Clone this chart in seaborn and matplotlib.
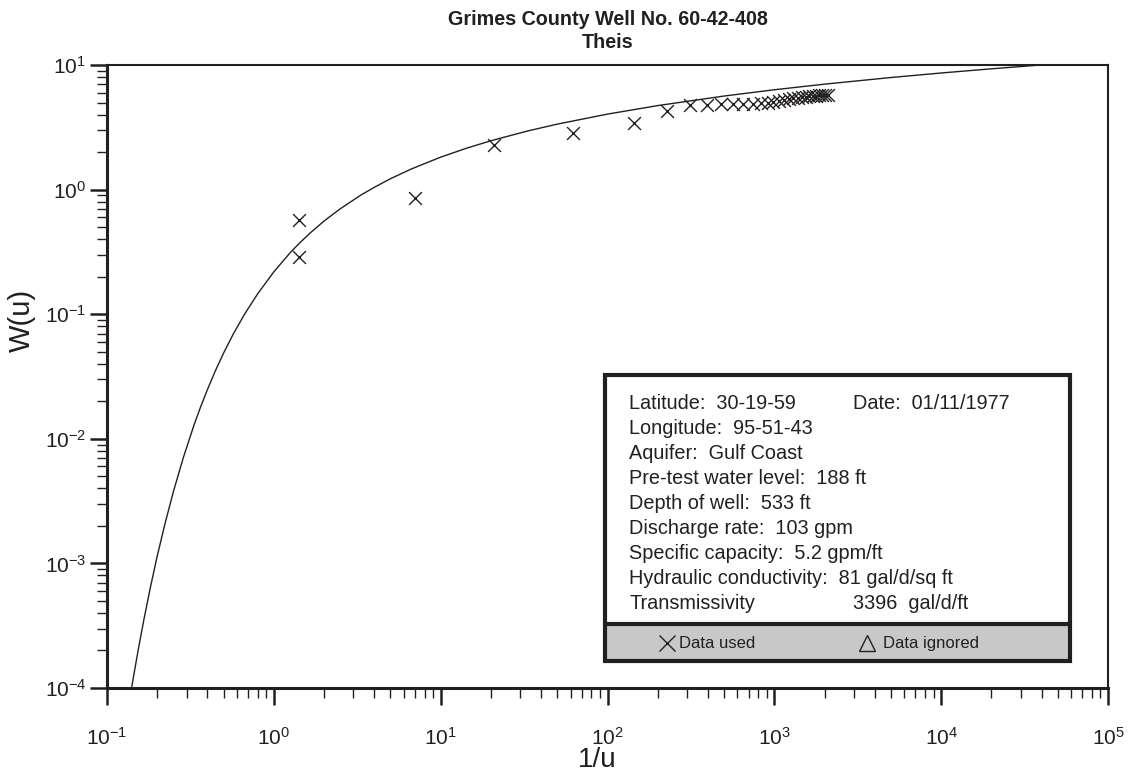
import matplotlib
matplotlib.use("Agg")
import numpy as np
import pandas as pd
import matplotlib.pyplot as plt
import seaborn as sns
from matplotlib.ticker import LogLocator, NullFormatter
from matplotlib.patches import Rectangle

# ==========================================
# Data
# ==========================================

# Theis type curve (1/u vs W(u))
curve_inv_u = [0.1408, 0.1429, 0.1538, 0.1667, 0.1818, 0.2, 0.2222, 0.25, 0.2857, 0.333,
               0.3636, 0.4, 0.4444, 0.5, 0.5714, 0.667, 0.8, 1.0, 1.25, 1.429,
               1.667, 2.0, 2.5, 3.33, 4.0, 5.0, 6.67, 10, 14.3, 20,
               33.3, 50, 100, 200, 500, 1000, 2000, 5000, 1e4, 2e4, 4e4]
curve_w = [1.03e-4, 1.155e-4, 2.03e-4, 3.60e-4, 6.41e-4, 1.148e-3, 2.07e-3, 3.78e-3, 6.97e-3, 1.305e-2,
           1.80e-2, 2.49e-2, 3.48e-2, 4.89e-2, 6.95e-2, 0.100, 0.146, 0.219, 0.311, 0.374,
           0.454, 0.560, 0.702, 0.906, 1.044, 1.223, 1.465, 1.823, 2.151, 2.468,
           2.959, 3.355, 4.038, 4.726, 5.639, 6.332, 7.024, 7.940, 8.633, 9.326, 10.02]

# observed drawdown points (data used)
obs_inv_u = [1.42, 1.42, 7.0, 21.0, 62.5, 145, 227, 310, 394, 478,
             564, 653, 743, 830, 910, 988, 1059, 1140, 1220, 1300,
             1380, 1460, 1540, 1620, 1700, 1780, 1860, 1940, 2020, 2100]
obs_w = [0.575, 0.288, 0.857, 2.29, 2.86, 3.44, 4.29, 4.80, 4.82, 4.84,
         4.86, 4.88, 4.90, 4.93, 4.97, 5.02, 5.10, 5.25, 5.35, 5.42,
         5.48, 5.53, 5.58, 5.62, 5.65, 5.68, 5.71, 5.74, 5.77, 5.80]

# decade ticks shown on each axis
x_decades = [0.1, 1, 10, 100, 1000, 1e4, 1e5]
y_decades = [1e-4, 1e-3, 1e-2, 1e-1, 1, 10]

title_lines = ["Grimes County Well No. 60-42-408", "Theis"]
info_left = ["Latitude:  30-19-59", "Longitude:  95-51-43", "Aquifer:  Gulf Coast",
             "Pre-test water level:  188 ft", "Depth of well:  533 ft",
             "Discharge rate:  103 gpm", "Specific capacity:  5.2 gpm/ft",
             "Hydraulic conductivity:  81 gal/d/sq ft", "Transmissivity"]
info_right = ["Date:  01/11/1977", "", "", "", "", "", "", "", "3396  gal/d/ft"]

curve_df = pd.DataFrame({"inv_u": curve_inv_u, "W": curve_w})
obs_df = pd.DataFrame({"inv_u": obs_inv_u, "W": obs_w})

# ==========================================
# Style
# ==========================================

sns.set_style("ticks")
plt.rcParams["font.family"] = ["Liberation Sans", "DejaVu Sans"]
plt.rcParams["mathtext.fontset"] = "custom"
plt.rcParams["mathtext.rm"] = "Liberation Sans"
plt.rcParams["mathtext.it"] = "Liberation Sans:italic"
plt.rcParams["mathtext.bf"] = "Liberation Sans:bold"
plt.rcParams["axes.unicode_minus"] = False

ink = "#231f20"

fig = plt.figure(figsize=(11.28, 7.76), dpi=100)
ax = fig.add_axes([0.0949, 0.1134, 0.8874, 0.8028])

# ==========================================
# Plot
# ==========================================

sns.lineplot(data=curve_df, x="inv_u", y="W", sort=False, estimator=None,
             color=ink, linewidth=1.0, ax=ax)
sns.scatterplot(data=obs_df, x="inv_u", y="W", marker="x", s=85,
                color=ink, linewidth=1.0, ax=ax, zorder=3)

ax.set_xscale("log")
ax.set_yscale("log")
ax.set_xticks(x_decades)
ax.set_yticks(y_decades)
for axis in (ax.xaxis, ax.yaxis):
    axis.set_minor_locator(LogLocator(base=10, subs=np.arange(2, 10), numticks=12))
    axis.set_minor_formatter(NullFormatter())
ax.set_xlim(0.1, 1e5)
ax.set_ylim(1e-4, 10)

ax.tick_params(which="major", direction="out", length=12, width=1.8,
               color=ink, labelsize=15, labelcolor=ink)
ax.tick_params(which="minor", direction="out", length=7, width=1.0, color=ink)
ax.tick_params(axis="x", which="major", pad=16)
ax.tick_params(axis="y", which="major", pad=3)

for side in ["left", "bottom"]:
    ax.spines[side].set_linewidth(2.2)
    ax.spines[side].set_color(ink)
for side in ["top", "right"]:
    ax.spines[side].set_visible(True)
    ax.spines[side].set_linewidth(1.5)
    ax.spines[side].set_color(ink)

ax.set_title("\n".join(title_lines), fontsize=14.2, fontweight="bold",
             color=ink, pad=12, linespacing=1.3)
ax.set_xlabel("1/u", fontsize=20, color=ink)
ax.set_ylabel("W(u)", fontsize=21, color=ink)
ax.xaxis.set_label_coords(0.49, -0.094)
ax.yaxis.set_label_coords(-0.071, 0.59)

# ==========================================
# Info box
# ==========================================

box_x0, box_x1 = 0.4975, 0.962
box_y0, box_y1 = 0.0433, 0.5024
band_top = 0.1027

ax.add_patch(Rectangle((box_x0, box_y0), box_x1 - box_x0, band_top - box_y0,
                       transform=ax.transAxes, facecolor="#c8c8c8",
                       edgecolor="none", zorder=4))
ax.add_patch(Rectangle((box_x0, band_top), box_x1 - box_x0, box_y1 - band_top,
                       transform=ax.transAxes, facecolor="white",
                       edgecolor="none", zorder=4))
ax.add_patch(Rectangle((box_x0, box_y0), box_x1 - box_x0, box_y1 - box_y0,
                       transform=ax.transAxes, facecolor="none",
                       edgecolor=ink, linewidth=3.0, zorder=5))
ax.plot([box_x0, box_x1], [band_top, band_top], transform=ax.transAxes,
        color=ink, linewidth=3.0, zorder=5)

line_y = 0.4559
for left, right in zip(info_left, info_right):
    ax.text(0.5215, line_y, left, transform=ax.transAxes, fontsize=14.3,
            color=ink, va="center", ha="left", zorder=6)
    if right:
        ax.text(0.7453, line_y, right, transform=ax.transAxes, fontsize=14.3,
                color=ink, va="center", ha="left", zorder=6)
    line_y -= 0.03997

ax.plot([0.5594], [0.0722], transform=ax.transAxes, marker="x", markersize=12,
        markeredgewidth=1.0, color=ink, linestyle="none", zorder=6)
ax.text(0.5714, 0.0722, "Data used", transform=ax.transAxes, fontsize=12,
        color=ink, va="center", ha="left", zorder=6)
ax.plot([0.7592], [0.0722], transform=ax.transAxes, marker="^", markersize=11,
        markeredgewidth=1.0, markerfacecolor="none", color=ink,
        linestyle="none", zorder=6)
ax.text(0.7752, 0.0722, "Data ignored", transform=ax.transAxes, fontsize=12,
        color=ink, va="center", ha="left", zorder=6)

fig.savefig("out.png", dpi=100)
